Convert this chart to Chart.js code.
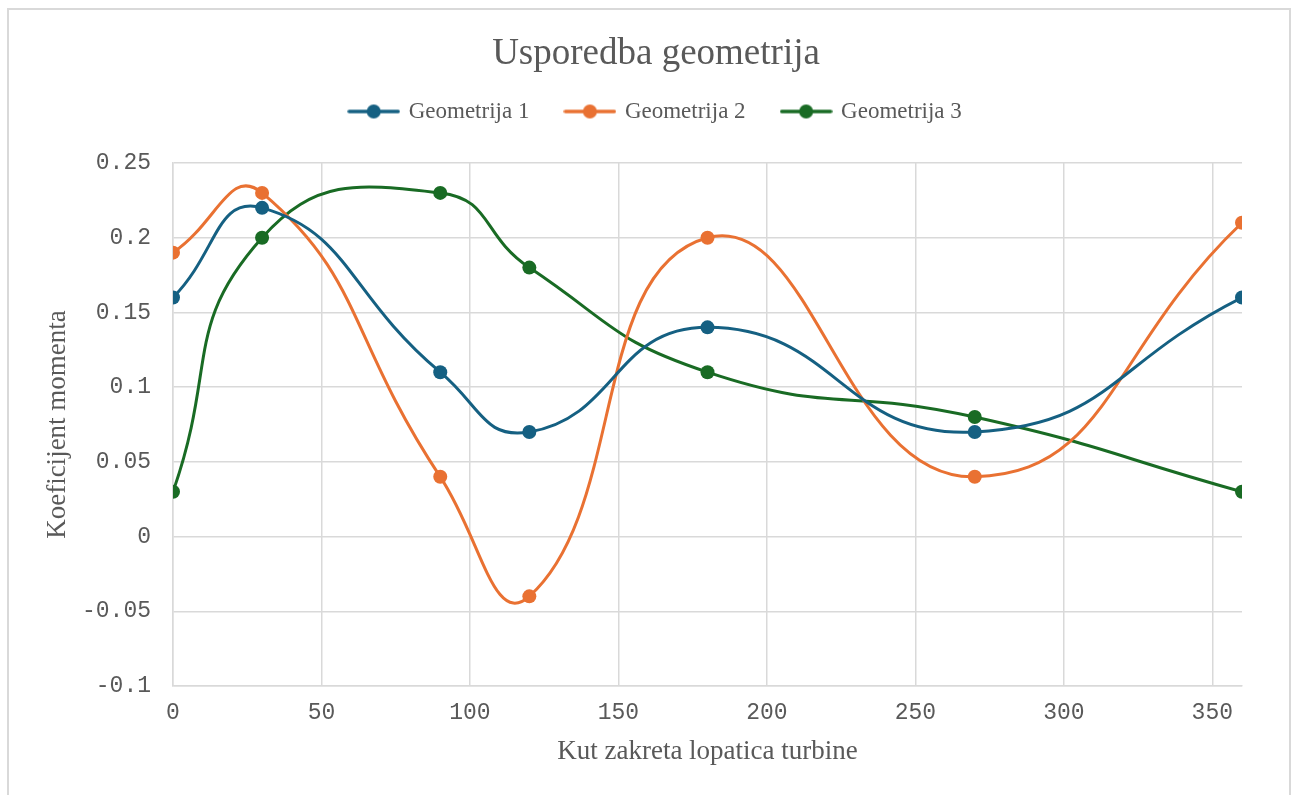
<!DOCTYPE html>
<html><head><meta charset="utf-8">
<script src="https://cdn.jsdelivr.net/npm/chart.js@4/dist/chart.umd.min.js"></script>
<style>html,body{margin:0;padding:0;background:#fff}#wrap{width:1296px;height:795px;position:relative}</style>
</head><body><div id="wrap"><canvas id="c" width="1296" height="795"></canvas></div>
<script>
const angles = [0, 30, 90, 120, 180, 270, 360];
const geom1 = [0.16, 0.22, 0.11, 0.07, 0.14, 0.07, 0.16];
const geom2 = [0.19, 0.23, 0.04, -0.04, 0.20, 0.04, 0.21];
const geom3 = [0.03, 0.20, 0.23, 0.18, 0.11, 0.08, 0.03];
const seriesNames = ['Geometrija 1', 'Geometrija 2', 'Geometrija 3'];
const colors = ['#156082', '#E97132', '#196B24'];
const titleText = 'Usporedba geometrija';
const xTitle = 'Kut zakreta lopatica turbine';
const yTitle = 'Koeficijent momenta';

function marker(color){
  const c = document.createElement('canvas');
  c.width = 53; c.height = 16;
  const g = c.getContext('2d');
  g.strokeStyle = color; g.lineWidth = 3.5; g.lineCap = 'round';
  g.beginPath(); g.moveTo(2,8); g.lineTo(51,8); g.stroke();
  g.fillStyle = color; g.beginPath(); g.arc(26.5,8,7,0,Math.PI*2); g.fill();
  return c;
}
const markers = colors.map(marker);

const datasets = [geom1, geom2, geom3].map((arr, i) => ({
  label: seriesNames[i],
  data: angles.map((a, j) => ({x: a, y: arr[j]})),
  borderColor: colors[i],
  backgroundColor: colors[i],
  borderWidth: 3,
  pointRadius: 7,
  pointHoverRadius: 7,
  pointBorderWidth: 0,
  showLine: true,
  tension: 0.5,
  pointStyle: 'circle'
}));

const frame = {
  id: 'frame',
  beforeDraw(chart){
    const g = chart.ctx;
    g.save();
    g.fillStyle = '#fff'; g.fillRect(0,0,chart.width,chart.height);
    g.strokeStyle = '#d9d9d9'; g.lineWidth = 2;
    g.strokeRect(8, 9, 1282, 800);
    g.restore();
  }
};

new Chart(document.getElementById('c'), {
  type: 'scatter',
  data: {datasets},
  plugins: [frame],
  options: {
    responsive: false,
    animation: false,
    layout: {padding: {left: 70, right: 54, top: 9, bottom: 20}},
    plugins: {
      title: {display: true, text: titleText, color: '#595959',
        font: {family: '"Liberation Serif", serif', size: 37, weight: 'normal'},
        padding: {top: 23, bottom: -13.4}},
      legend: {display: true, position: 'top',
        labels: {color: '#595959', font: {family: '"Liberation Serif", serif', size: 23},
          usePointStyle: true, pointStyleWidth: 47, boxWidth: 47, boxHeight: 16, padding: 37,
          generateLabels: (chart) => chart.data.datasets.map((d, i) => ({
            text: d.label, fillStyle: colors[i], strokeStyle: colors[i], fontColor: '#595959',
            pointStyle: markers[i], lineWidth: 0, hidden: false, datasetIndex: i
          }))}},
      tooltip: {enabled: false}
    },
    scales: {
      x: {type: 'linear', min: 0, max: 360,
        ticks: {stepSize: 50, includeBounds: false, color: '#595959', padding: 13,
          font: {family: '"Liberation Mono", monospace', size: 23}},
        grid: {color: '#d9d9d9', lineWidth: 1.5, drawTicks: false},
        border: {color: '#d9d9d9', width: 1.5},
        title: {display: true, text: xTitle, color: '#595959',
          font: {family: '"Liberation Serif", serif', size: 27}, padding: {top: 0, bottom: 7}},
        afterFit: (s) => { s.height = 89; }
      },
      spacer: {axis: 'x', type: 'linear', position: 'top', display: true,
        ticks: {display: false}, grid: {display: false, drawTicks: false},
        border: {display: false}, title: {display: false},
        afterFit: (s) => { s.height = 30; }
      },
      y: {type: 'linear', min: -0.1, max: 0.25,
        ticks: {stepSize: 0.05, color: '#595959', padding: 22,
          font: {family: '"Liberation Mono", monospace', size: 23},
          callback: (v) => String(Number(v.toFixed(2)))},
        grid: {color: '#d9d9d9', lineWidth: 1.5, drawTicks: false},
        border: {color: '#d9d9d9', width: 1.5},
        title: {display: true, text: yTitle, color: '#595959',
          font: {family: '"Liberation Serif", serif', size: 27}, padding: {top: -28, bottom: 0}},
        afterFit: (s) => { s.width = 103; }
      }
    }
  }
});
</script></body></html>
